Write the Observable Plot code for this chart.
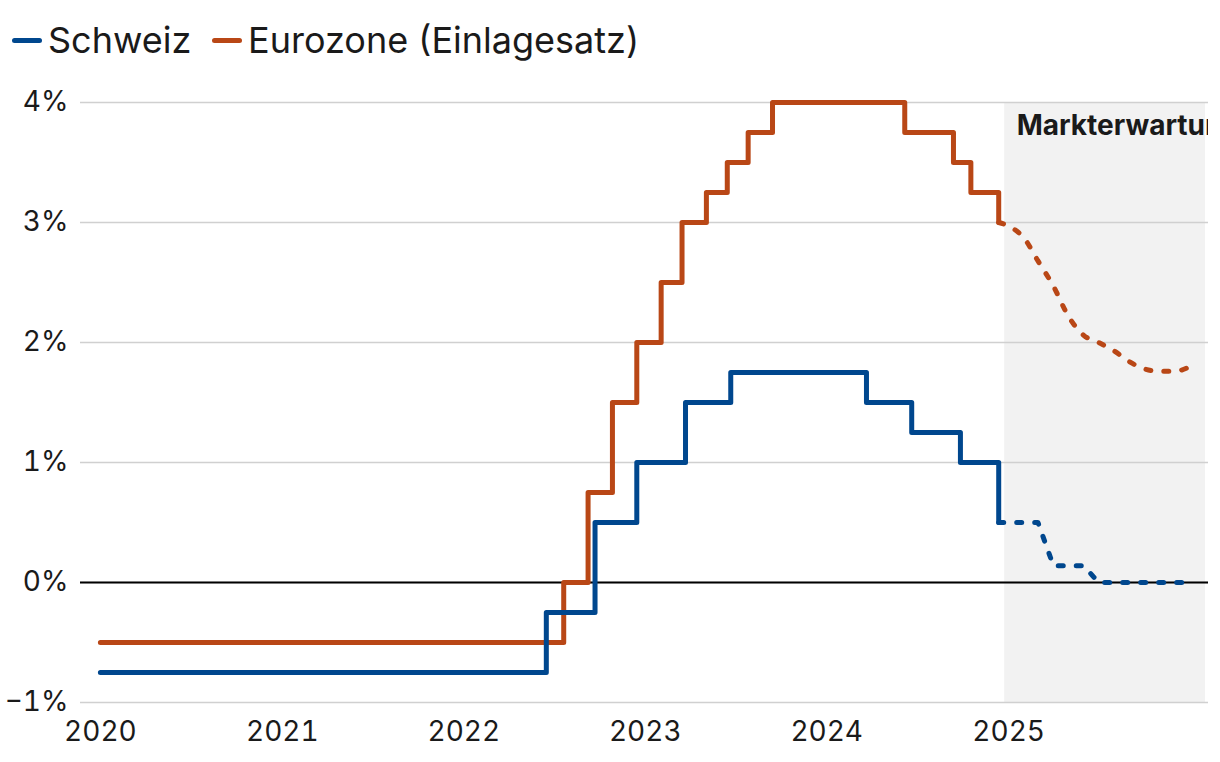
<!DOCTYPE html>
<html>
<head>
<meta charset="utf-8">
<script src="https://cdn.jsdelivr.net/npm/d3@7"></script>
<script src="https://cdn.jsdelivr.net/npm/@observablehq/plot@0.6"></script>
<style>
  html, body { margin: 0; padding: 0; background: #fff; }
  body { width: 1220px; height: 762px; overflow: hidden; font-family: Inter, "Noto Sans", sans-serif; }
  #legend { position: relative; height: 70px; }
  .item { position: absolute; top: 18px; display: flex; align-items: center; font-size: 36px; color: #1a1a1a; line-height: 44px; white-space: nowrap; }
  .sw { display: inline-block; width: 30px; height: 5px; border-radius: 3px; margin-right: 6px; }
</style>
</head>
<body>
<div id="legend"></div>
<div id="chart"></div>
<script>
// ---- Data ----
const seriesNames = ["Schweiz", "Eurozone (Einlagesatz)"];
const seriesColors = ["#00478e", "#b94716"];

// SNB policy rate (decision dates)
const chDates = ["2020-01-01","2022-06-16","2022-09-22","2022-12-15","2023-03-23","2023-06-22","2024-03-21","2024-06-20","2024-09-26","2024-12-12"];
const chRates = [-0.75, -0.25, 0.5, 1.0, 1.5, 1.75, 1.5, 1.25, 1.0, 0.5];

// ECB deposit rate (decision dates)
const euDates = ["2020-01-01","2022-07-21","2022-09-08","2022-10-27","2022-12-15","2023-02-02","2023-03-16","2023-05-04","2023-06-15","2023-07-27","2023-09-14","2024-06-06","2024-09-12","2024-10-17","2024-12-12"];
const euRates = [-0.5, 0, 0.75, 1.5, 2.0, 2.5, 3.0, 3.25, 3.5, 3.75, 4.0, 3.75, 3.5, 3.25, 3.0];

// Market expectations
const fcDates = ["2024-12-12","2025-01-01","2025-02-01","2025-03-01","2025-04-01","2025-05-01","2025-06-01","2025-07-01","2025-08-01","2025-09-01","2025-10-01","2025-11-01","2025-12-01","2026-01-01"];
const chForecast = [0.5, 0.5, 0.5, 0.5, 0.14, 0.14, 0.14, 0.0, 0.0, 0.0, 0.0, 0.0, 0.0, 0.0];
const euForecast = [3.0, 2.97, 2.87, 2.68, 2.47, 2.22, 2.06, 2.0, 1.93, 1.84, 1.78, 1.76, 1.76, 1.8];

const bandStart = "2024-12-24";
const bandEnd = "2026-02-01";
const bandLabel = "Markterwartung";

const yTicks = [-1, 0, 1, 2, 3, 4];
const xTickYears = [2020, 2021, 2022, 2023, 2024, 2025];

// ---- Build tables ----
const parse = s => new Date(s + "T00:00:00Z");
const hist = [
  ...chDates.map((d, i) => ({date: parse(d), value: chRates[i], s: seriesNames[0]})),
  ...euDates.map((d, i) => ({date: parse(d), value: euRates[i], s: seriesNames[1]}))
];
const fc = [
  ...fcDates.map((d, i) => ({date: parse(d), value: chForecast[i], s: seriesNames[0]})),
  ...fcDates.map((d, i) => ({date: parse(d), value: euForecast[i], s: seriesNames[1]}))
];
const histCH = hist.filter(d => d.s === seriesNames[0]);
const histEU = hist.filter(d => d.s === seriesNames[1]);
const fcCH = fc.filter(d => d.s === seriesNames[0]);
const fcEU = fc.filter(d => d.s === seriesNames[1]);

// ---- Legend ----
const legend = document.getElementById("legend");
const legendX = [12, 212];
seriesNames.forEach((n, i) => {
  const el = document.createElement("div");
  el.className = "item";
  el.style.left = legendX[i] + "px";
  el.innerHTML = `<span class="sw" style="background:${seriesColors[i]}"></span><span>${n}</span>`;
  legend.appendChild(el);
});

// ---- Chart ----
const fmtPct = d => (d < 0 ? "\u2212" : "") + Math.abs(d) + "%";
const chart = Plot.plot({
  width: 1220,
  height: 692,
  marginLeft: 80,
  marginRight: 12,
  marginTop: 32,
  marginBottom: 60,
  style: {fontFamily: "Inter, sans-serif", color: "#1a1a1a", background: "transparent"},
  x: {type: "utc", domain: [parse("2019-11-22"), parse("2026-02-07")]},
  y: {domain: [-1, 4]},
  marks: [
    Plot.rect([{x1: parse(bandStart), x2: parse(bandEnd)}], {x1: "x1", x2: "x2", y1: -1, y2: 4, fill: "#f2f2f2"}),
    Plot.gridY(yTicks, {stroke: "#d0d0d0", strokeOpacity: 1, strokeWidth: 1.5}),
    Plot.ruleY([0], {stroke: "#000", strokeWidth: 2}),
    Plot.axisY(yTicks, {tickSize: 0, tickPadding: 12, fontSize: 28, tickFormat: fmtPct, label: null}),
    Plot.axisX(xTickYears.map(y => new Date(Date.UTC(y, 0, 1))), {tickSize: 0, tickPadding: 19, fontSize: 28, tickFormat: d => String(d.getUTCFullYear()), label: null}),
    Plot.text([bandLabel], {x: parse(bandStart), y: 4, text: d => d, textAnchor: "start", lineAnchor: "top", dx: 12, dy: 13, fontSize: 28, fontWeight: "bold", fill: "#1a1a1a", clip: true}),
    Plot.line(fcCH, {x: "date", y: "value", stroke: seriesColors[0], strokeWidth: 5, strokeDasharray: "5,13", strokeLinecap: "round"}),
    Plot.line(fcEU, {x: "date", y: "value", stroke: seriesColors[1], strokeWidth: 5, strokeDasharray: "5,13", strokeLinecap: "round", curve: "monotone-x"}),
    Plot.line(histEU, {x: "date", y: "value", curve: "step-after", stroke: seriesColors[1], strokeWidth: 5, strokeLinecap: "round", strokeLinejoin: "round"}),
    Plot.line(histCH, {x: "date", y: "value", curve: "step-after", stroke: seriesColors[0], strokeWidth: 5, strokeLinecap: "round", strokeLinejoin: "round"})
  ]
});
document.getElementById("chart").appendChild(chart);
</script>
</body>
</html>
